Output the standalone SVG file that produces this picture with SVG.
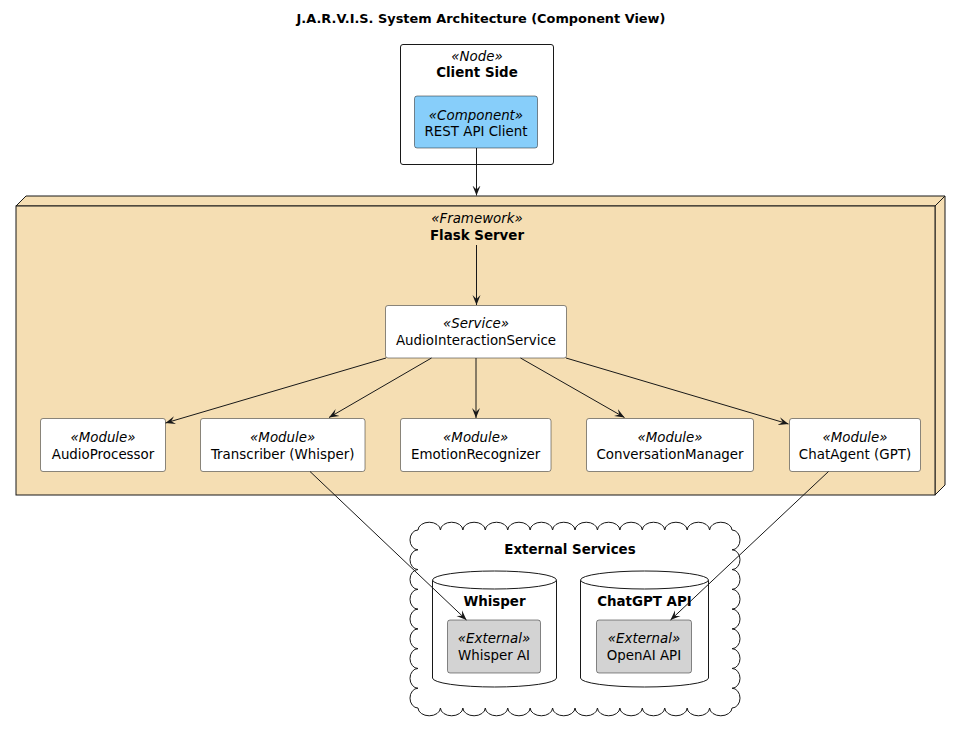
<svg xmlns="http://www.w3.org/2000/svg" width="961" height="734" viewBox="0 0 961 734">
<style>
text{font-family:"DejaVu Sans","Liberation Sans",sans-serif;font-size:13.4px;fill:#000;text-anchor:middle}
.b{font-weight:bold}
.i{font-style:italic}
.t{font-size:12.9px;font-weight:bold}
.box{stroke:#181818;stroke-width:0.5}
.line{stroke:#181818;stroke-width:1;fill:none}
</style>
<defs>
<marker id="ah" markerUnits="userSpaceOnUse" markerWidth="12" markerHeight="10" viewBox="0 0 12 10" refX="10" refY="5" orient="auto">
<path d="M0,1 L10,5 L0,9 L4,5 Z" fill="#181818"/>
</marker>
</defs>
<rect width="961" height="734" fill="#fff"/>
<text class="t" x="481" y="23">J.A.R.V.I.S. System Architecture (Component View)</text>

<g id="client-side">
<rect x="400.5" y="44.5" width="153" height="120" rx="2.5" fill="#fff" stroke="#181818" stroke-width="1"/>
<text class="i" x="477" y="61">«Node»</text>
<text class="b" x="477" y="77">Client Side</text>
</g>
<g id="rest-api-client">
<rect x="414.5" y="96" width="123" height="52" rx="2.5" fill="#87CEFA" class="box"/>
<text class="i" x="476" y="120">«Component»</text>
<text x="476" y="136">REST API Client</text>
</g>

<g id="flask-server">
<polygon points="16,206 26,196 945,196 935,206" fill="#F5DEB3" stroke="#181818" stroke-width="1"/>
<polygon points="935,206 945,196 945,485 935,495" fill="#F5DEB3" stroke="#181818" stroke-width="1"/>
<rect x="16" y="206" width="919" height="289" fill="#F5DEB3" stroke="#181818" stroke-width="1"/>
<text class="i" x="477" y="223">«Framework»</text>
<text class="b" x="477" y="239.5">Flask Server</text>
</g>

<g id="audio-interaction-service">
<rect x="385.5" y="305.5" width="181" height="52.5" rx="2.5" fill="#fff" class="box"/>
<text class="i" x="476" y="328">«Service»</text>
<text x="476" y="345">AudioInteractionService</text>
</g>
<g id="audio-processor">
<rect x="40.5" y="418.5" width="125" height="53" rx="2.5" fill="#fff" class="box"/>
<text class="i" x="103" y="441.5">«Module»</text>
<text x="103" y="458.5">AudioProcessor</text>
</g>
<g id="transcriber">
<rect x="200.5" y="418.5" width="164.5" height="53" rx="2.5" fill="#fff" class="box"/>
<text class="i" x="282.7" y="441.5">«Module»</text>
<text x="282.7" y="458.5">Transcriber (Whisper)</text>
</g>
<g id="emotion-recognizer">
<rect x="400.5" y="418.5" width="150.5" height="53" rx="2.5" fill="#fff" class="box"/>
<text class="i" x="475.7" y="441.5">«Module»</text>
<text x="475.7" y="458.5">EmotionRecognizer</text>
</g>
<g id="conversation-manager">
<rect x="586.5" y="418.5" width="167" height="53" rx="2.5" fill="#fff" class="box"/>
<text class="i" x="670" y="441.5">«Module»</text>
<text x="670" y="458.5">ConversationManager</text>
</g>
<g id="chat-agent">
<rect x="789.5" y="418.5" width="131" height="53" rx="2.5" fill="#fff" class="box"/>
<text class="i" x="855" y="441.5">«Module»</text>
<text x="855" y="458.5">ChatAgent (GPT)</text>
</g>

<g id="external-services">
<path fill="#fff" stroke="#181818" stroke-width="1" d="M418,530
a11.22,8 0 0 1 22.43,0 a11.22,8 0 0 1 22.43,0 a11.22,8 0 0 1 22.43,0 a11.22,8 0 0 1 22.43,0 a11.22,8 0 0 1 22.43,0 a11.22,8 0 0 1 22.43,0 a11.22,8 0 0 1 22.43,0
a11.22,8 0 0 1 22.43,0 a11.22,8 0 0 1 22.43,0 a11.22,8 0 0 1 22.43,0 a11.22,8 0 0 1 22.43,0 a11.22,8 0 0 1 22.43,0 a11.22,8 0 0 1 22.43,0 a11.22,8 0 0 1 22.43,0
a8,9.89 0 0 1 0,19.78 a8,9.89 0 0 1 0,19.78 a8,9.89 0 0 1 0,19.78 a8,9.89 0 0 1 0,19.78 a8,9.89 0 0 1 0,19.78 a8,9.89 0 0 1 0,19.78 a8,9.89 0 0 1 0,19.78 a8,9.89 0 0 1 0,19.78 a8,9.89 0 0 1 0,19.78
a11.22,8 0 0 1 -22.43,0 a11.22,8 0 0 1 -22.43,0 a11.22,8 0 0 1 -22.43,0 a11.22,8 0 0 1 -22.43,0 a11.22,8 0 0 1 -22.43,0 a11.22,8 0 0 1 -22.43,0 a11.22,8 0 0 1 -22.43,0
a11.22,8 0 0 1 -22.43,0 a11.22,8 0 0 1 -22.43,0 a11.22,8 0 0 1 -22.43,0 a11.22,8 0 0 1 -22.43,0 a11.22,8 0 0 1 -22.43,0 a11.22,8 0 0 1 -22.43,0 a11.22,8 0 0 1 -22.43,0
a8,9.89 0 0 1 0,-19.78 a8,9.89 0 0 1 0,-19.78 a8,9.89 0 0 1 0,-19.78 a8,9.89 0 0 1 0,-19.78 a8,9.89 0 0 1 0,-19.78 a8,9.89 0 0 1 0,-19.78 a8,9.89 0 0 1 0,-19.78 a8,9.89 0 0 1 0,-19.78 a8,9.89 0 0 1 0,-19.78 Z"/>
<text class="b" x="570" y="554">External Services</text>
</g>

<g id="whisper-db">
<path d="M432.5,580 L432.5,678 A62,9 0 0 0 556.5,678 L556.5,580" fill="#fff" stroke="#181818" stroke-width="1"/>
<ellipse cx="494.5" cy="580" rx="62" ry="9" fill="#fff" stroke="#181818" stroke-width="1"/>
<text class="b" x="494.5" y="605.5">Whisper</text>
</g>
<g id="whisper-ai">
<rect x="447.5" y="620" width="93" height="53" rx="2.5" fill="#D3D3D3" class="box"/>
<text class="i" x="494" y="643">«External»</text>
<text x="494" y="659.5">Whisper AI</text>
</g>
<g id="chatgpt-db">
<path d="M580.5,580 L580.5,678 A64,9 0 0 0 708.5,678 L708.5,580" fill="#fff" stroke="#181818" stroke-width="1"/>
<ellipse cx="644.5" cy="580" rx="64" ry="9" fill="#fff" stroke="#181818" stroke-width="1"/>
<text class="b" x="644.5" y="605.5">ChatGPT API</text>
</g>
<g id="openai-api">
<rect x="596.5" y="620" width="95" height="53" rx="2.5" fill="#D3D3D3" class="box"/>
<text class="i" x="644" y="643">«External»</text>
<text x="644" y="659.5">OpenAI API</text>
</g>

<g id="connectors">
<line class="line" x1="476.5" y1="148" x2="476.5" y2="195.5" marker-end="url(#ah)"/>
<line class="line" x1="476.5" y1="245" x2="476.5" y2="305" marker-end="url(#ah)"/>
<line class="line" x1="386" y1="358" x2="165.5" y2="423" marker-end="url(#ah)"/>
<line class="line" x1="431.5" y1="358" x2="329" y2="417.5" marker-end="url(#ah)"/>
<line class="line" x1="476" y1="358" x2="476" y2="418" marker-end="url(#ah)"/>
<line class="line" x1="520.5" y1="358" x2="624.5" y2="417.5" marker-end="url(#ah)"/>
<line class="line" x1="566" y1="358" x2="788.5" y2="424" marker-end="url(#ah)"/>
<line class="line" x1="310" y1="471.5" x2="466.5" y2="620" marker-end="url(#ah)"/>
<line class="line" x1="828.5" y1="471.5" x2="670.5" y2="620" marker-end="url(#ah)"/>
</g>
</svg>
